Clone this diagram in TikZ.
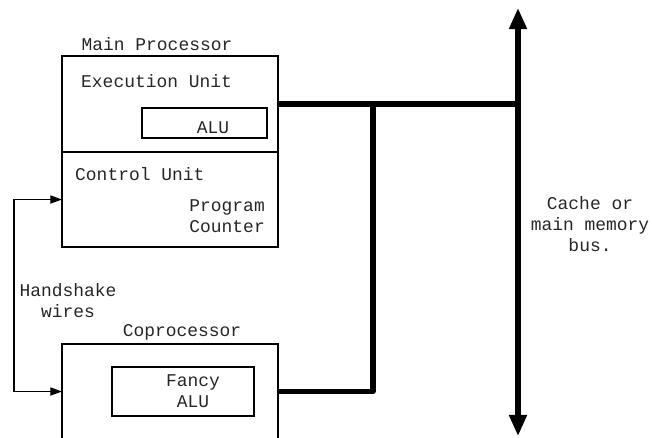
\documentclass[tikz,border=0pt]{standalone}
\usepackage{fontspec}
\usepackage{tikz}
\usetikzlibrary{arrows.meta, positioning, calc}
\newfontfamily\courfont{Liberation Mono}
\newcommand{\txtfont}{\courfont\fontsize{15.3pt}{17.9pt}\selectfont}
\tikzset{
  caja/.style={rectangle, draw=black, line width=0.9pt, inner sep=0pt, outer sep=0pt},
  rotulo/.style={font=\txtfont, inner sep=0pt, text=black!85},
  hilo/.style={line width=0.9pt, -{Triangle[length=10pt, width=7pt]}},
  bus/.style={line width=4.3pt, line join=round}
}

\begin{document}
\begin{tikzpicture}[x=0.03cm, y=-0.03cm]
  \useasboundingbox (0,0) rectangle (652,437);
  \clip (0,0) rectangle (652,437);
  % Procesador principal
  \node (tmain) [rotulo] at (157,44) {Main Processor};
  \node (exec) [caja, minimum width=6.48cm, minimum height=2.88cm] at (170,104) {};
  \node (ctrl) [caja, minimum width=6.48cm, minimum height=2.85cm, below=0cm of exec] {};
  \node (texec) [rotulo, anchor=west] at (81,81) {Execution Unit};
  \node (alu) [caja, minimum width=3.75cm, minimum height=0.9cm] at (204.5,123) {};
  \node (talu) [rotulo] at (213,128) {ALU};
  \node (tctrl) [rotulo, anchor=west] at (75,174) {Control Unit};
  \node (tpc) [rotulo, anchor=east, align=right] at (265,216.5) {Program\\Counter};
  % Coprocesador
  \node (tcop) [rotulo] at (182,332) {Coprocessor};
  \node (cop) [caja, minimum width=6.48cm, minimum height=4.08cm] at (170,412) {};
  \node (falu) [caja, minimum width=4.26cm, minimum height=1.47cm] at (183,391.5) {};
  \node (tfalu) [rotulo, align=center] at (193,391) {Fancy\\ALU};
  % Handshake
  \coordinate (hs) at (14,300);
  \node (ths) [rotulo, align=center] at (68,300.5) {Handshake\\wires};
  \draw [hilo] (hs) |- (ctrl.west);
  \draw [hilo] (hs) |- (cop.west |- falu.east);
  % Bus de memoria
  \coordinate (bustop) at (518,8);
  \coordinate (busbot) at (518,436);
  \coordinate (jn) at (373,104);
  \draw [bus, {Triangle[length=18pt, width=14.5pt]}-{Triangle[length=18pt, width=14.5pt]}] (bustop) -- (busbot);
  \draw [bus] (exec.east) -- (exec.east -| bustop);
  \draw [bus] (cop.east |- falu.east) -| (jn);
  \node (tbus) [rotulo, align=center] at (590,224) {Cache or\\main memory\\bus.};
\end{tikzpicture}
\end{document}
